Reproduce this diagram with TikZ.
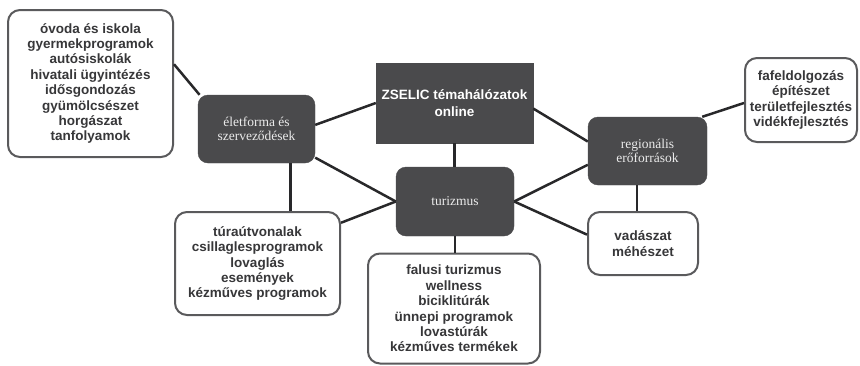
\documentclass[tikz,border=0pt]{standalone}
\usepackage{fontspec}
\setmainfont{Liberation Serif}
\setsansfont{Liberation Sans}
\usepackage{tikz}
\usetikzlibrary{positioning,calc}
\definecolor{darkbox}{RGB}{74, 74, 76}
\definecolor{boxedge}{RGB}{90, 90, 92}
\definecolor{listtext}{RGB}{55, 55, 57}
\definecolor{linkcolor}{RGB}{40, 40, 42}
\tikzset{
    topic/.style={rectangle, rounded corners=10pt, draw=darkbox, fill=darkbox, text=white!92!black, align=center, inner sep=0pt, font=\fontsize{13.5}{14.6}\selectfont},
    hub/.style={rectangle, draw=darkbox, fill=darkbox, text=white, align=center, inner sep=0pt, font=\sffamily\bfseries\fontsize{13.5}{16.7}\selectfont},
    list box/.style={rectangle, rounded corners=12pt, draw=boxedge, line width=2pt, fill=white, text=listtext, align=center, inner sep=0pt, font=\sffamily\bfseries\fontsize{13.5}{15.4}\selectfont},
    link/.style={line width=2.5pt, draw=linkcolor}
}

\begin{document}
\begin{tikzpicture}[x=1pt, y=-1pt]
    \useasboundingbox (0,0) rectangle (860,365);

    % Central hub and topic boxes
    \node[hub, minimum width=157, minimum height=80] (zselic) at (454.5,103) {ZSELIC témahálózatok\\online};
    \node[topic, minimum width=117, minimum height=68] (life) at (256.5,129) {életforma és\\szerveződések};
    \node[topic, minimum width=118, minimum height=69] (tour) at (455,201.5) {turizmus};
    \node[topic, minimum width=119, minimum height=68] (region) at (647.5,151) {regionális\\erőforrások};

    % List boxes
    \node[list box, minimum width=165, minimum height=147] (lifebox) at (90.5,83.5) {óvoda és iskola\\gyermekprogramok\\autósiskolák\\hivatali ügyintézés\\idősgondozás\\gyümölcsészet\\horgászat\\tanfolyamok};
    \node[list box, minimum width=165, minimum height=103] (trailbox) at (257.5,263.5) {túraútvonalak\\csillaglesprogramok\\lovaglás\\események\\kézműves programok};
    \node[list box, minimum width=172, minimum height=110] (ruralbox) at (454,308.5) {falusi turizmus\\wellness\\biciklitúrák\\ünnepi programok\\lovastúrák\\kézműves termékek};
    \node[list box, minimum width=110, minimum height=63] (huntbox) at (643,243.5) {vadászat\\méhészet};
    \node[list box, minimum width=112, minimum height=84] (regionbox) at (801,100) {fafeldolgozás\\építészet\\területfejlesztés\\vidékfejlesztés};

    % Connections
    \draw[link] (lifebox.13) -- (life.149);
    \draw[link] (life.4) -- (zselic.west);
    \draw[link] (life.-26) -- (tour.west);
    \draw[link] (life.-45) -- (life.-45 |- trailbox.north);
    \draw[link] (trailbox.26) -- (tour.west);
    \draw[link] (zselic.south) -- (zselic.south |- tour.north);
    \draw[link] (zselic.-4) -- (region.171);
    \draw[link] (tour.east) -- (region.193);
    \draw[link] (tour.east) -- (huntbox.171);
    \draw[link] (tour.south) -- (tour.south |- ruralbox.north);
    \draw[link] (region.-107) -- (region.-107 |- huntbox.north);
    \draw[link] (region.32) -- (regionbox.183);
\end{tikzpicture}
\end{document}
